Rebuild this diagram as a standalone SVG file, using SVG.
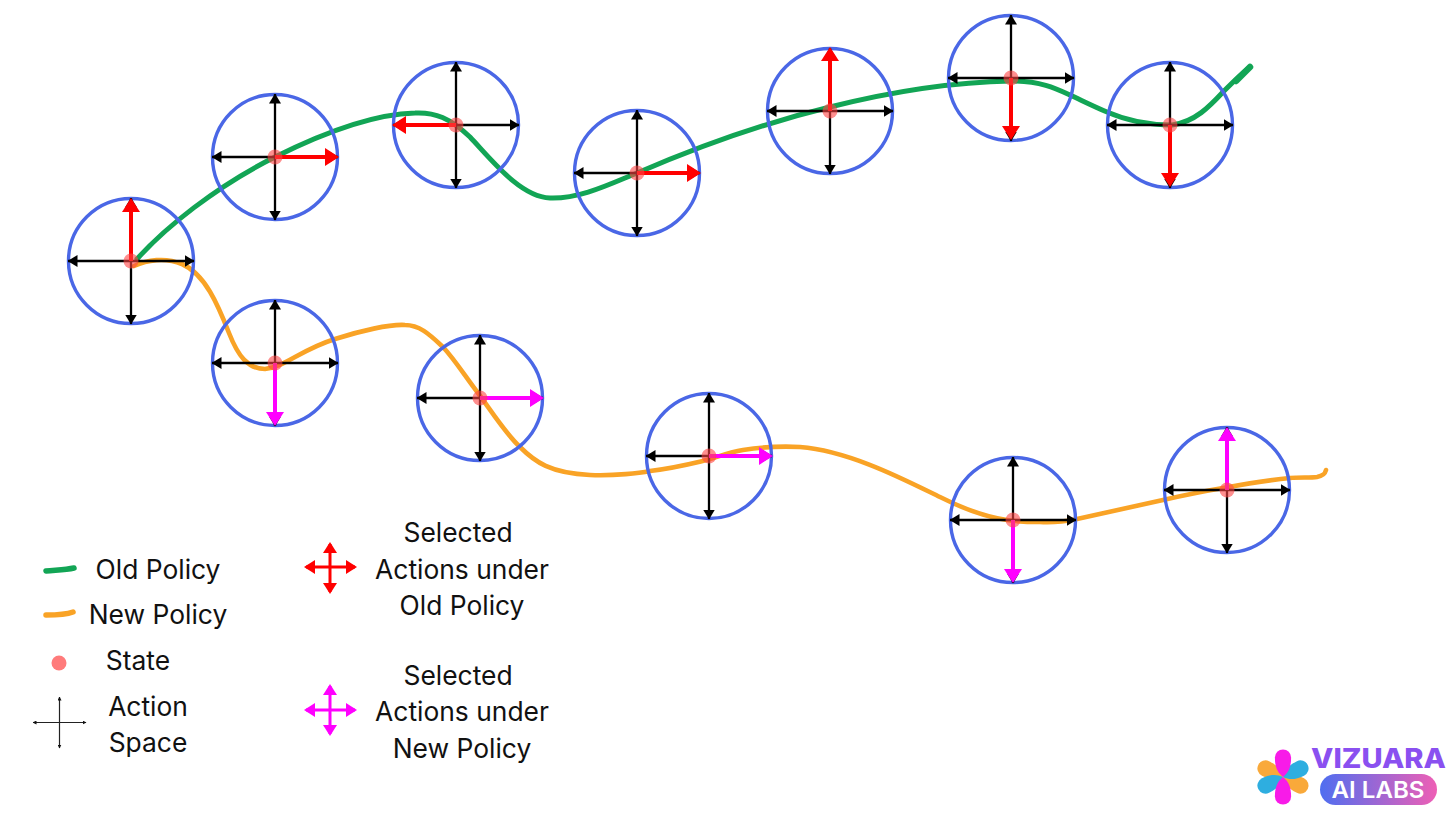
<svg xmlns="http://www.w3.org/2000/svg" width="1456" height="814" viewBox="0 0 1456 814">
<style>
.t{font-family:"Inter","Liberation Sans",sans-serif;font-size:26.4px;fill:#111;text-anchor:middle}
.ring{fill:none;stroke:#4a67e6;stroke-width:3.4}
.ax{stroke:#000;stroke-width:2.3;fill:none;marker-start:url(#k);marker-end:url(#k)}
.red{stroke:#f00;stroke-width:4;fill:none;marker-end:url(#r)}
.mag{stroke:#f0f;stroke-width:4;fill:none;marker-end:url(#m)}
.red2{stroke:#f00;stroke-width:3;fill:none;marker-start:url(#r2);marker-end:url(#r2)}
.mag2{stroke:#f0f;stroke-width:3;fill:none;marker-start:url(#m2);marker-end:url(#m2)}
.thin{stroke:#222;stroke-width:1.2;fill:none;marker-start:url(#ks);marker-end:url(#ks)}
.st{fill:#f44;fill-opacity:.6}
.old{fill:none;stroke:#12a555;stroke-width:5;stroke-linecap:round}
.new{fill:none;stroke:#f9a326;stroke-width:4.6;stroke-linecap:round}
.brand{font-family:"Inter","Liberation Sans",sans-serif;text-anchor:middle}
</style>
<defs>
<marker id="k" viewBox="0 0 10 12" refX="9.500" refY="6" markerWidth="10" markerHeight="12" markerUnits="userSpaceOnUse" orient="auto-start-reverse"><path d="M0,0L10,6L0,12z" fill="#000"/></marker>
<marker id="r" viewBox="0 0 14 18" refX="11" refY="9" markerWidth="14" markerHeight="18" markerUnits="userSpaceOnUse" orient="auto-start-reverse"><path d="M0,0L14,9L0,18z" fill="#f00"/></marker>
<marker id="m" viewBox="0 0 14 18" refX="11" refY="9" markerWidth="14" markerHeight="18" markerUnits="userSpaceOnUse" orient="auto-start-reverse"><path d="M0,0L14,9L0,18z" fill="#f0f"/></marker>
<marker id="r2" viewBox="0 0 11 14" refX="9" refY="7" markerWidth="11" markerHeight="14" markerUnits="userSpaceOnUse" orient="auto-start-reverse"><path d="M0,0L11,7L0,14z" fill="#f00"/></marker>
<marker id="m2" viewBox="0 0 11 14" refX="9" refY="7" markerWidth="11" markerHeight="14" markerUnits="userSpaceOnUse" orient="auto-start-reverse"><path d="M0,0L11,7L0,14z" fill="#f0f"/></marker>
<marker id="ks" viewBox="0 0 4 4" refX="3.500" refY="2" markerWidth="4" markerHeight="4" markerUnits="userSpaceOnUse" orient="auto-start-reverse"><path d="M0,0L4,2L0,4z" fill="#111"/></marker>
<g id="space"><circle class="ring" r="62.5"/><path class="ax" d="M-63,0H63"/><path class="ax" d="M0,63V-63"/></g>
<linearGradient id="pill" x1="0" x2="1" y1="0" y2="0"><stop offset="0" stop-color="#4f6ef0"/><stop offset="1" stop-color="#ee5fb5"/></linearGradient>
<path id="petal" d="M0,0C4,-5 9,-7.500 18,-7.500A7.500,7.500 0 0 1 18,7.500C9,7.500 4,5 0,0z"/>
</defs>
<rect width="1456" height="814" fill="#fff"/>

<g id="connectors">
<path class="old" d="M137,259C165,228 215,187 275,157C325,132 375,114 415,113C435,112 450,118 470,137C490,158 520,197 550,198C580,199 610,184 637,173C690,150 760,124 830,107C890,92 950,82 1011,81C1040,81 1055,88 1070,95C1085,102 1095,107 1107,112C1130,122 1150,125 1172,125C1195,122 1210,106 1223,92C1233,82 1242,73 1250,67"/>
<path class="old" style="stroke-width:6.5" d="M1236,81L1250,67"/>
<path class="new" d="M134,266C147,260 165,257 182,264C205,274 218,305 229,333C238,356 248,369 265,369C285,367 300,350 335,339C360,331 390,324 405,325C420,325 430,335 443,347C455,360 465,376 478,393C492,412 505,433 520,447C535,462 550,473 590,475C615,476 640,473 650,471C675,468 690,464 707,460C720,456 730,452 743,450C762,447 780,446 800,447C850,451 905,480 940,497C960,507 985,517 1007,520C1020,522 1030,522 1040,522C1055,523 1067,521 1077,519C1105,513 1135,506 1163,500C1185,495 1205,491 1223,488C1245,484 1268,480 1290,478C1300,477 1310,478 1317,477C1323,476 1325,474 1326,470"/>
</g>

<g id="n0" transform="translate(131,261)"><use href="#space"/><path class="red" d="M0,0V-60"/><circle class="st" r="7.5"/></g>
<g id="n1" transform="translate(275,157)"><use href="#space"/><path class="red" d="M0,0H61"/><circle class="st" r="7.5"/></g>
<g id="n2" transform="translate(456,125)"><use href="#space"/><path class="red" d="M0,0H-61"/><circle class="st" r="7.5"/></g>
<g id="n3" transform="translate(637,173)"><use href="#space"/><path class="red" d="M0,0H61"/><circle class="st" r="7.5"/></g>
<g id="n4" transform="translate(830,111)"><use href="#space"/><path class="red" d="M0,0V-61"/><circle class="st" r="7.5"/></g>
<g id="n5" transform="translate(1011,78)"><use href="#space"/><path class="red" d="M0,0V59"/><circle class="st" r="7.5"/></g>
<g id="n6" transform="translate(1170,125)"><use href="#space"/><path class="red" d="M0,0V59"/><circle class="st" r="7.5"/></g>
<g id="n7" transform="translate(275,363)"><use href="#space"/><path class="mag" d="M0,0V60"/><circle class="st" r="7.5"/></g>
<g id="n8" transform="translate(480,398)"><use href="#space"/><path class="mag" d="M0,0H61"/><circle class="st" r="7.5"/></g>
<g id="n9" transform="translate(709,456)"><use href="#space"/><path class="mag" d="M0,0H61"/><circle class="st" r="7.5"/></g>
<g id="n10" transform="translate(1013,520)"><use href="#space"/><path class="mag" d="M0,0V60"/><circle class="st" r="7.5"/></g>
<g id="n11" transform="translate(1227,490)"><use href="#space"/><path class="mag" d="M0,0V-60"/><circle class="st" r="7.5"/></g>

<g id="legend-old"><path d="M46,571C55,570 65,570 74,568" fill="none" stroke="#12a555" stroke-width="5.5" stroke-linecap="round"/><text class="t" x="158" y="579">Old Policy</text></g>
<g id="legend-new"><path d="M46,615C55,615 65,615 73,612" fill="none" stroke="#f9a326" stroke-width="5.5" stroke-linecap="round"/><text class="t" x="158" y="624">New Policy</text></g>
<g id="legend-state"><circle cx="59" cy="663" r="7.5" fill="#ff7b7b"/><text class="t" x="138" y="670">State</text></g>
<g id="legend-space"><path class="thin" d="M33,722.5H86"/><path class="thin" d="M59.500,697V748"/><text class="t" x="148" y="716">Action</text><text class="t" x="148" y="752">Space</text></g>
<g id="legend-sel-old"><path class="red2" d="M306,567H355"/><path class="red2" d="M330,544V592"/><text class="t" x="458" y="542">Selected</text><text class="t" x="462" y="579">Actions under</text><text class="t" x="462" y="615">Old Policy</text></g>
<g id="legend-sel-new"><path class="mag2" d="M306,710H355"/><path class="mag2" d="M330,686V734"/><text class="t" x="458" y="685">Selected</text><text class="t" x="462" y="721">Actions under</text><text class="t" x="462" y="758">New Policy</text></g>

<g id="logo">
<g transform="translate(1283,777) scale(1.08)">
<use href="#petal" fill="#f9a93a" transform="rotate(26)"/>
<use href="#petal" fill="#f9a93a" transform="rotate(206)"/>
<use href="#petal" fill="#2eaee0" transform="rotate(-26)"/>
<use href="#petal" fill="#2eaee0" transform="rotate(154)"/>
<use href="#petal" fill="#f81be8" transform="rotate(90)"/>
<use href="#petal" fill="#f81be8" transform="rotate(-90)"/>
</g>
<text class="brand" x="1378.500" y="768" font-size="27" font-weight="800" fill="#8a50f0" textLength="135" lengthAdjust="spacingAndGlyphs">VIZUARA</text>
<rect x="1320" y="774" width="117" height="31" rx="15.500" fill="url(#pill)"/>
<text class="brand" x="1378" y="798" font-size="23" font-weight="600" fill="#fff" textLength="93" lengthAdjust="spacingAndGlyphs">AI LABS</text>
</g>
</svg>
